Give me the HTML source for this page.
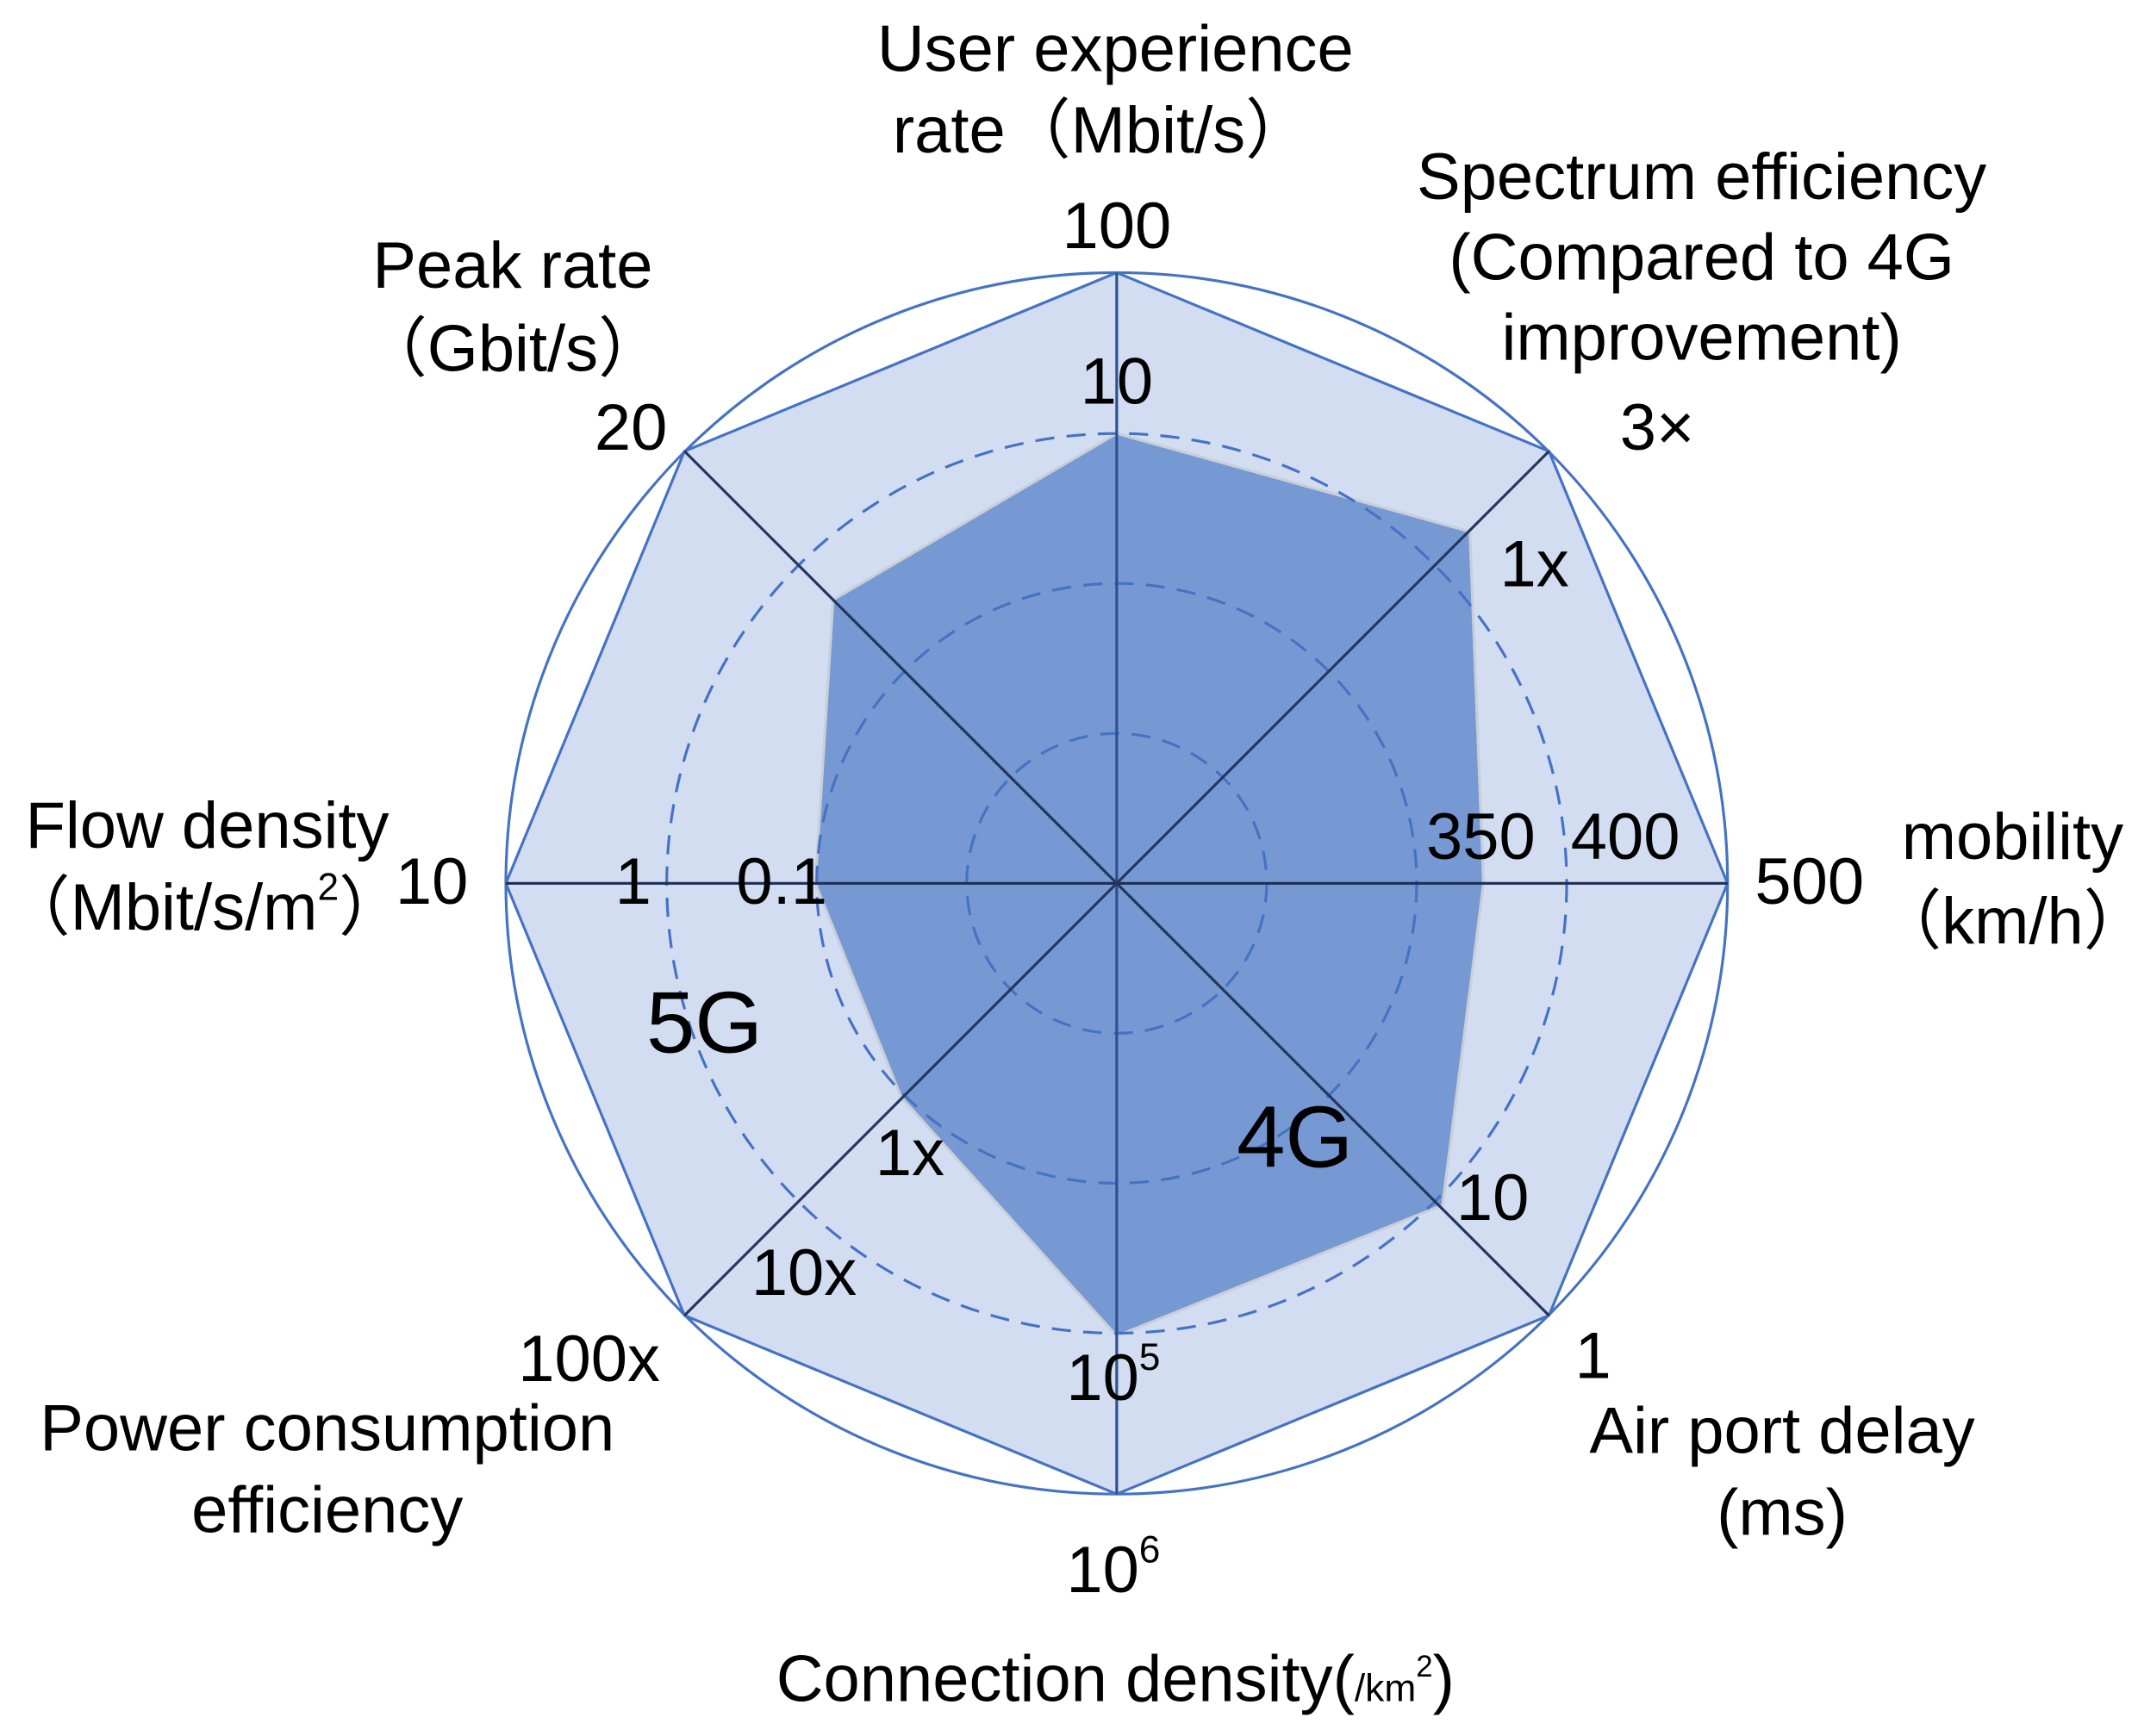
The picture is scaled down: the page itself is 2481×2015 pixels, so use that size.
<!DOCTYPE html>
<html><head><meta charset="utf-8"><style>
html,body{margin:0;padding:0;background:#fff;}
svg{display:block;}
text{font-family:"Liberation Sans","Noto Sans CJK SC",sans-serif;fill:#000;}
</style></head><body>
<svg width="2481" height="2015" viewBox="0 0 1568 1273.5" preserveAspectRatio="none" xmlns="http://www.w3.org/2000/svg">
<rect x="0" y="0" width="1568" height="1274" fill="#fff"/>
<polygon points="819,200 1136,331 1267,648 1136,965 819,1096 502,965 371,648 502,331" fill="#d3ddf1" stroke="#4472c4" stroke-width="2"/>
<circle cx="819" cy="648" r="448" fill="none" stroke="#4472c4" stroke-width="2"/>
<polygon points="819,318 1078,390 1088,648 1058,884 819,980 661,805 598,648 611,440" fill="#7799d3" stroke="#c9cfd8" stroke-width="2"/>
<g fill="none" stroke="#4472c4" stroke-width="2" stroke-dasharray="14,9">
<circle cx="819" cy="648" r="110"/>
<circle cx="819" cy="648" r="220"/>
<circle cx="819" cy="648" r="330"/>
</g>
<g stroke-width="2">
<line x1="819" y1="200" x2="819" y2="1096" stroke="#2e4f8f"/>
<line x1="371" y1="648" x2="1267" y2="648" stroke="#1e2f55"/>
<line x1="502" y1="331" x2="1136" y2="965" stroke="#23365e"/>
<line x1="502" y1="965" x2="1136" y2="331" stroke="#23365e"/>
</g>
<g font-size="48">
<text x="818" y="52" text-anchor="middle">User experience</text>
<text x="808" y="112" text-anchor="middle">rate（Mbit/s）</text>
<text x="819" y="182" text-anchor="middle">100</text>
<text x="819" y="296" text-anchor="middle">10</text>
<text x="1248" y="146" text-anchor="middle">Spectrum efficiency</text>
<text x="1248" y="205" text-anchor="middle">(Compared to 4G</text>
<text x="1248" y="264" text-anchor="middle">improvement)</text>
<text x="1188" y="330">3×</text>
<text x="1100" y="430">1x</text>
<text x="376" y="211" text-anchor="middle">Peak rate</text>
<text x="376" y="272" text-anchor="middle">（Gbit/s）</text>
<text x="436" y="330">20</text>
<text x="152" y="622" text-anchor="middle">Flow density</text>
<text x="150" y="682" text-anchor="middle">（Mbit/s/m<tspan font-size="28" dy="-22">2</tspan><tspan dy="22">）</tspan></text>
<text x="290" y="663">10</text>
<text x="451" y="663">1</text>
<text x="540" y="663">0.1</text>
<text x="1046" y="630">350</text>
<text x="1152" y="630">400</text>
<text x="1287" y="663">500</text>
<text x="1476" y="630" text-anchor="middle">mobility</text>
<text x="1476" y="692" text-anchor="middle">（km/h）</text>
<text x="642" y="862">1x</text>
<text x="551" y="950">10x</text>
<text x="380" y="1013">100x</text>
<text x="240" y="1064" text-anchor="middle">Power consumption</text>
<text x="240" y="1124" text-anchor="middle">efficiency</text>
<text x="1068" y="895">10</text>
<text x="1155" y="1011">1</text>
<text x="1307" y="1066" text-anchor="middle">Air port delay</text>
<text x="1307" y="1126" text-anchor="middle">(ms)</text>
<text x="782" y="1027">10<tspan font-size="28" dy="-22">5</tspan></text>
<text x="782" y="1168">10<tspan font-size="28" dy="-22">6</tspan></text>
<text x="818" y="1248" text-anchor="middle">Connection density(<tspan font-size="28">/km</tspan><tspan font-size="22" dy="-18">2</tspan><tspan dy="18">)</tspan></text>
</g>
<text x="474" y="772" font-size="64">5G</text>
<text x="907" y="856" font-size="64">4G</text>
</svg>
</body></html>
